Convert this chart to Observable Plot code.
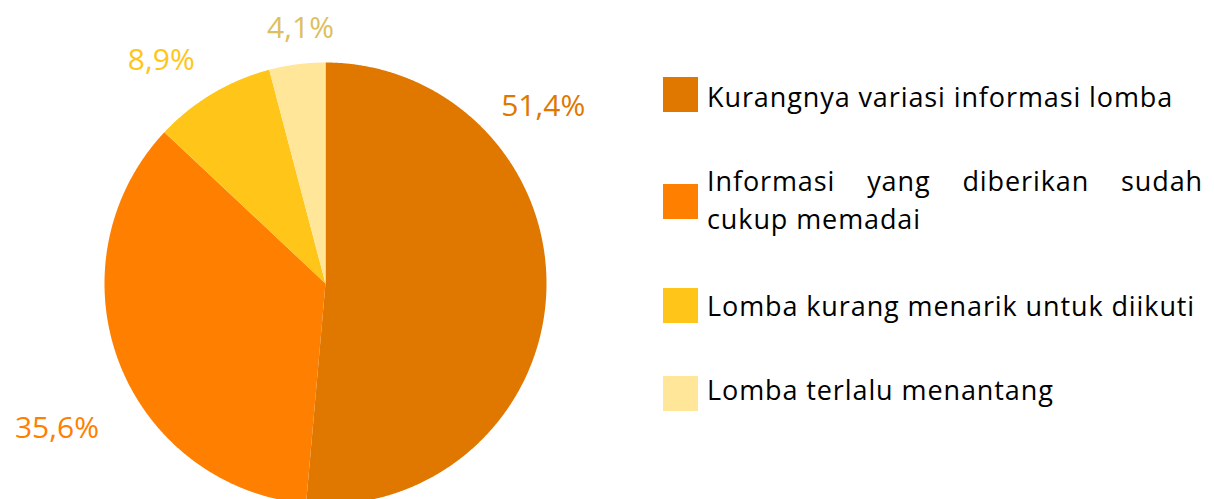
<!DOCTYPE html>
<html>
<head>
<meta charset="utf-8">
<script src="https://cdn.jsdelivr.net/npm/d3@7"></script>
<script src="https://cdn.jsdelivr.net/npm/@observablehq/plot@0.6"></script>
<style>
  html, body { margin: 0; padding: 0; background: #fff; }
  #wrap { position: relative; width: 1214px; height: 499px; overflow: hidden; font-family: "Open Sans", sans-serif; }
  #chart svg { display: block; }
  .sw { position: absolute; width: 35px; height: 35px; }
  .tx { position: absolute; width: 496px; font-size: 27px; letter-spacing: 0.9px; line-height: 38px; color: #000; text-align: justify; text-align-last: left; }
</style>
</head>
<body>
<div id="wrap"><div id="chart"></div><div id="legend"></div></div>
<script>
// ---- data ----
const categories = [
  "Kurangnya variasi informasi lomba",
  "Informasi yang diberikan sudah cukup memadai",
  "Lomba kurang menarik untuk diikuti",
  "Lomba terlalu menantang"
];
const values = [51.4, 35.6, 8.9, 4.1];
const valueLabels = ["51,4%", "35,6%", "8,9%", "4,1%"];

// ---- styles / layout ----
const colors = ["#E07800", "#FF7F00", "#FFC519", "#FFE699"];
const labelColors = ["#E07800", "#FF7F00", "#FFC519", "#DDBF5F"];
// label positions relative to pie centre, in radius units (x right, y up)
const labelOffsets = [[0.985, 0.80], [-1.215, -0.655], [-0.743, 1.01], [-0.113, 1.155]];
const legendTops = [78, 162, 287, 371];
const swatchTops = [77, 184, 288, 376];

const pie = d3.pie().sort(null).value(d => d)(values);
const slicePts = [];
pie.forEach((p, i) => {
  const a0 = p.startAngle, a1 = p.endAngle;
  const n = Math.max(2, Math.ceil((a1 - a0) / 0.005));
  slicePts.push({cat: categories[i], x: 0, y: 0});
  for (let k = 0; k <= n; k++) {
    const a = a0 + (a1 - a0) * k / n;
    slicePts.push({cat: categories[i], x: Math.sin(a), y: Math.cos(a)});
  }
});
const labels = valueLabels.map((t, i) => ({t, x: labelOffsets[i][0], y: labelOffsets[i][1], c: labelColors[i]}));

const chart = Plot.plot({
  width: 1214,
  height: 499,
  margin: 0,
  style: {background: "transparent", fontFamily: "'Open Sans', sans-serif"},
  x: {domain: [-1, 1], range: [104, 546], axis: null},
  y: {domain: [-1, 1], range: [504, 62], axis: null},
  color: {domain: categories, range: colors},
  marks: [
    Plot.line(slicePts, {x: "x", y: "y", z: "cat", fill: "cat", stroke: null, curve: "linear-closed"}),
    Plot.text(labels, {x: "x", y: "y", text: "t", fill: d => d.c, fontSize: 30, textAnchor: "middle", lineAnchor: "middle"})
  ]
});
document.getElementById("chart").appendChild(chart);

const lg = document.getElementById("legend");
categories.forEach((c, i) => {
  const sw = document.createElement("div");
  sw.className = "sw";
  sw.style.left = "663px";
  sw.style.top = swatchTops[i] + "px";
  sw.style.background = colors[i];
  lg.appendChild(sw);
  const tx = document.createElement("div");
  tx.className = "tx";
  tx.style.left = "707px";
  tx.style.top = legendTops[i] + "px";
  tx.textContent = c;
  lg.appendChild(tx);
});
</script>
</body>
</html>
